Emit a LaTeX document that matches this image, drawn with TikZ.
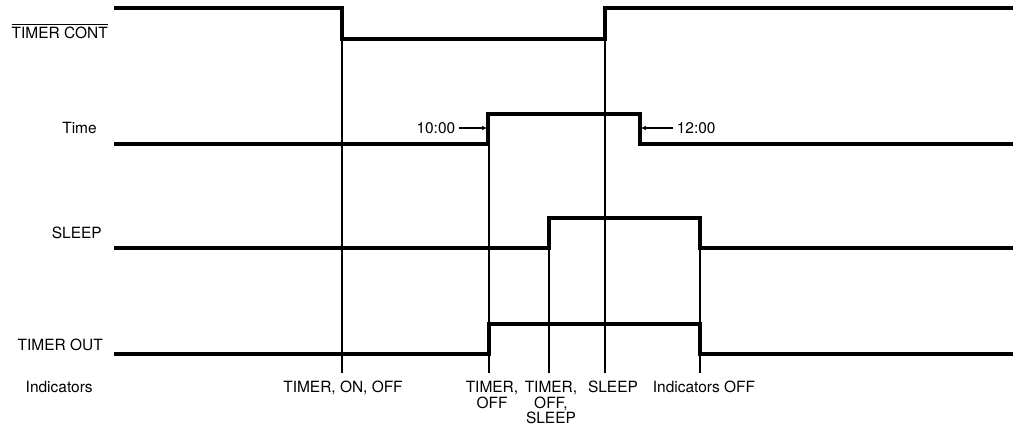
\documentclass[tikz,border=0pt]{standalone}
\usepackage{fontspec}
\setmainfont{TeX Gyre Heros}
\usetikzlibrary{arrows.meta}
\tikzset{
  wave/.style={
    line width=2.2pt,
    line join=miter,
  },
  marker/.style={
    line width=1.1pt,
  },
  pointer/.style={
    line width=1.1pt,
    -{Latex[length=3.5pt,width=3.5pt]},
  },
  signame/.style={
    font=\fontsize{11}{11}\selectfont,
    anchor=east,
    inner sep=0pt,
  },
  timelabel/.style={
    font=\fontsize{11}{11}\selectfont,
    inner sep=2.5pt,
  },
  indicator/.style={
    font=\fontsize{11}{11}\selectfont,
    align=center,
    anchor=north,
    inner sep=0pt,
  },
}
\begin{document}
\begin{tikzpicture}[x=0.025cm, y=-0.025cm]
    \useasboundingbox (0,0) rectangle (1013,426);
    % signal names
    \node[signame] (cont) at (108,31) {$\overline{\mbox{TIMER CONT}}$};
    \node[signame] (time) at (97,128) {Time};
    \node[signame] (sleep) at (102,233) {SLEEP};
    \node[signame] (out) at (103,345) {TIMER OUT};
    \node[signame] (ind) at (93,387) {Indicators};
    % event markers
    \foreach \x/\y in {342/39, 489/144, 549/248, 605/39, 700/248}
        \draw[marker] (\x,\y) -- (\x,373);
    % waveforms
    \draw[wave] (114,8) -- (342,8) -- (342,39) -- (605,39) -- (605,8) -- (1013,8);
    \draw[wave] (114,144) -- (488,144) -- (488,114) -- (640,114) -- (640,144) -- (1013,144);
    \draw[wave] (114,248) -- (549,248) -- (549,218) -- (700,218) -- (700,248) -- (1013,248);
    \draw[wave] (114,354) -- (489,354) -- (489,324) -- (700,324) -- (700,354) -- (1013,354);
    % switching times
    \coordinate (on) at (487,128);
    \coordinate (off) at (641,128);
    \node[timelabel, anchor=east] (ten) at (459,128) {10:00};
    \node[timelabel, anchor=west] (twelve) at (673,128) {12:00};
    \draw[pointer] (ten) -- (on);
    \draw[pointer] (twelve) -- (off);
    % indicator states
    \node[indicator] (i1) at (343,381) {TIMER, ON, OFF};
    \node[indicator] (i2) at (492,381) {TIMER,\\OFF};
    \node[indicator] (i3) at (551,381) {TIMER,\\OFF,\\SLEEP};
    \node[indicator] (i4) at (613,381) {SLEEP};
    \node[indicator] (i5) at (704,381) {Indicators OFF};
\end{tikzpicture}
\end{document}
